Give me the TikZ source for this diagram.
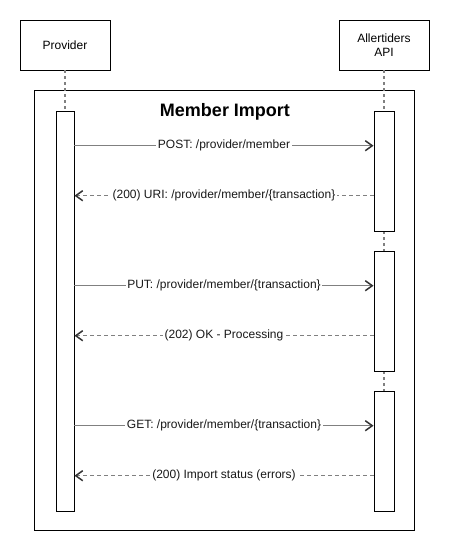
\documentclass[tikz,border=0pt]{standalone}
\usepackage{fontspec}
\setmainfont{Liberation Sans}
\usetikzlibrary{arrows.meta}
\definecolor{wire}{HTML}{808080}
\begin{document}
\begin{tikzpicture}[x=1pt,y=-1pt,
  every node/.style={font=\fontsize{12}{14.5}\selectfont},
  actor/.style={draw=black,line width=0.9pt,fill=white,minimum width=90pt,minimum height=50pt,align=center,inner sep=0pt},
  lifeline/.style={draw=wire,line width=1.8pt,dash pattern=on 3pt off 3pt},
  activation/.style={draw=black,line width=0.9pt,fill=white},
  call/.style={draw=wire,line width=1.5pt,-{Straight Barb[length=7pt,width=10pt,line width=1.5pt,color=black!80]}},
  reply/.style={draw=wire,line width=1.5pt,dash pattern=on 4pt off 3pt,-{Straight Barb[length=7pt,width=10pt,line width=1.5pt,color=black!80]}},
  msg/.style={fill=white,inner sep=1.5pt,text=black!90}]
\useasboundingbox (0,0) rectangle (455,550);

% participants
\node[actor] (prov) at (65,45) {Provider};
\node[actor] (api) at (384,45) {Allertiders\\API};

% combined fragment frame
\draw[black,line width=0.9pt] (34.5,90) rectangle (414,530.5);
\node[font=\bfseries\fontsize{18}{21}\selectfont,anchor=base] (title) at (225,116) {Member Import};

% lifelines
\coordinate (p0) at (65,111);
\coordinate (a1) at (384,111);
\coordinate (a1e) at (384,231);
\coordinate (a2) at (384,251);
\coordinate (a2e) at (384,371);
\coordinate (a3) at (384,391);
\draw[lifeline] (prov.south) -- (p0);
\draw[lifeline] (api.south) -- (a1);
\draw[lifeline] (a1e) -- (a2);
\draw[lifeline] (a2e) -- (a3);

% activation bars
\node[activation,minimum width=18pt,minimum height=399.5pt,inner sep=0pt,anchor=north] (pact) at (65,111) {};
\node[activation,minimum width=20pt,minimum height=120pt,inner sep=0pt,anchor=north] (act1) at (384,111) {};
\node[activation,minimum width=20pt,minimum height=120pt,inner sep=0pt,anchor=north] (act2) at (384,251) {};
\node[activation,minimum width=20pt,minimum height=120pt,inner sep=0pt,anchor=north] (act3) at (384,391) {};

% messages
\draw[call] (pact.east |- 0,145.7) -- node[msg] {POST: /provider/member} (act1.west |- 0,145.7);
\draw[reply] (act1.west |- 0,195.7) -- node[msg] {(200) URI: /provider/member/\{transaction\}} (pact.east |- 0,195.7);
\draw[call] (pact.east |- 0,285.7) -- node[msg] {PUT: /provider/member/\{transaction\}} (act2.west |- 0,285.7);
\draw[reply] (act2.west |- 0,335.7) -- node[msg] {(202) OK - Processing} (pact.east |- 0,335.7);
\draw[call] (pact.east |- 0,425.7) -- node[msg] {GET: /provider/member/\{transaction\}} (act3.west |- 0,425.7);
\draw[reply] (act3.west |- 0,475.7) -- node[msg] {(200) Import status (errors)} (pact.east |- 0,475.7);
\end{tikzpicture}
\end{document}
